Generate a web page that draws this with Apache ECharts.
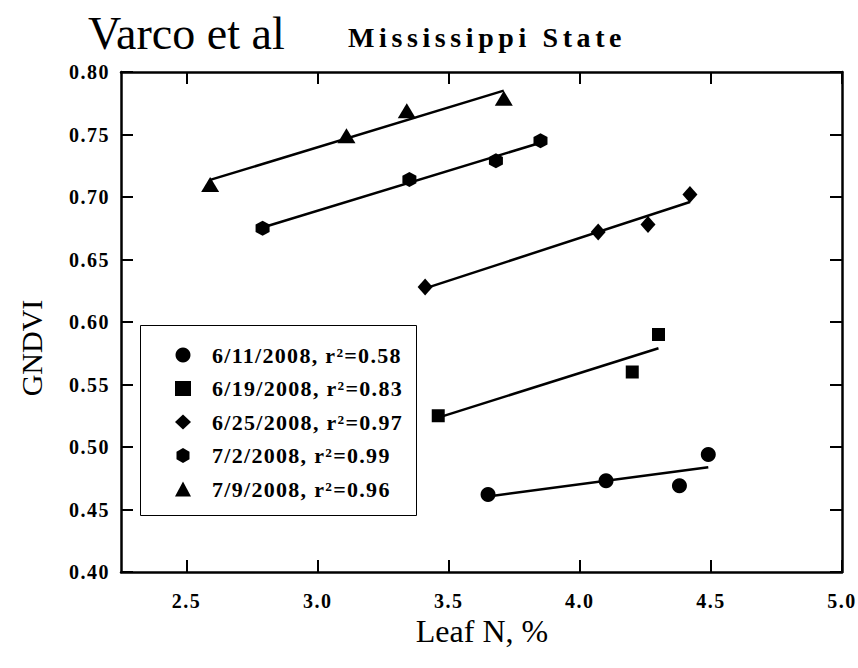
<!DOCTYPE html>
<html><head><meta charset="utf-8">
<script src="https://cdn.jsdelivr.net/npm/echarts@6/dist/echarts.min.js"></script>
<style>html,body{margin:0;padding:0;background:#fff}#c{width:858px;height:668px}</style>
</head><body><div id="c"></div>
<script>
// ---- data ----
const dates = ['6/11/2008', '6/19/2008', '6/25/2008', '7/2/2008', '7/9/2008'];
const rSquared = ['0.58', '0.83', '0.97', '0.99', '0.96'];
const leafN_0611 = [3.65, 4.10, 4.38, 4.49];
const gndvi_0611 = [0.462, 0.473, 0.469, 0.494];
const leafN_0619 = [3.46, 4.20, 4.30];
const gndvi_0619 = [0.525, 0.560, 0.590];
const leafN_0625 = [3.41, 4.07, 4.26, 4.42];
const gndvi_0625 = [0.628, 0.672, 0.678, 0.702];
const leafN_0702 = [2.79, 3.35, 3.68, 3.85];
const gndvi_0702 = [0.675, 0.714, 0.729, 0.745];
const leafN_0709 = [2.59, 3.11, 3.34, 3.71];
const gndvi_0709 = [0.710, 0.749, 0.769, 0.779];
const xTicks = [2.5, 3.0, 3.5, 4.0, 4.5, 5.0];
const yTicks = [0.40, 0.45, 0.50, 0.55, 0.60, 0.65, 0.70, 0.75, 0.80];
const xRange = [2.25, 5.0];
const yRange = [0.40, 0.80];

// ---- styling ----
const HEX = 'path://M0,-1L0.866,-0.5L0.866,0.5L0,1L-0.866,0.5L-0.866,-0.5Z';
const symbols = ['circle', 'rect', 'diamond', HEX, 'triangle'];
const symbolSizes = [15, 13, [15, 17], [14, 15], [18, 15]];
const xs = [leafN_0611, leafN_0619, leafN_0625, leafN_0702, leafN_0709];
const ys = [gndvi_0611, gndvi_0619, gndvi_0625, gndvi_0702, gndvi_0709];
const SERIF = '"Liberation Serif", "Times New Roman", serif';

function fit(x, y) {
  const n = x.length;
  const mx = x.reduce((a, b) => a + b, 0) / n, my = y.reduce((a, b) => a + b, 0) / n;
  let sxy = 0, sxx = 0;
  for (let i = 0; i < n; i++) { sxy += (x[i] - mx) * (y[i] - my); sxx += (x[i] - mx) * (x[i] - mx); }
  const b = sxy / sxx, a = my - b * mx;
  const x0 = Math.min(...x), x1 = Math.max(...x);
  return [[x0, a + b * x0], [x1, a + b * x1]];
}

const series = [];
dates.forEach((d, i) => {
  series.push({
    name: d, type: 'scatter', symbol: symbols[i], symbolSize: symbolSizes[i],
    itemStyle: { color: '#000', opacity: 1 }, z: 4, silent: true,
    data: xs[i].map((v, k) => [v, ys[i][k]])
  });
  series.push({
    name: 'fit ' + d, type: 'line', symbol: 'none', silent: true, z: 3,
    lineStyle: { color: '#000', width: 2.5, opacity: 1 },
    data: fit(xs[i], ys[i])
  });
});

const axisLine = { show: true, onZero: false, lineStyle: { color: '#000', width: 2.5 } };
const tick = (vals) => ({ show: true, inside: true, length: 12, customValues: vals, lineStyle: { color: '#000', width: 2 } });
const labelFont = { fontFamily: SERIF, fontWeight: 'bold', fontSize: 20, color: '#000' };

const chart = echarts.init(document.getElementById('c'), null, { renderer: 'svg' });
chart.setOption({
  animation: false,
  backgroundColor: '#fff',
  grid: { left: 121, top: 72, width: 721, height: 500 },
  xAxis: [
    { type: 'value', position: 'bottom', min: xRange[0], max: xRange[1],
      axisLine, axisTick: tick(xTicks), splitLine: { show: false },
      axisLabel: Object.assign({ customValues: xTicks, margin: 19, formatter: v => v.toFixed(1) }, labelFont) },
    { type: 'value', position: 'top', min: xRange[0], max: xRange[1],
      axisLine, axisTick: tick(xTicks), splitLine: { show: false }, axisLabel: { show: false } }
  ],
  yAxis: [
    { type: 'value', position: 'left', min: yRange[0], max: yRange[1],
      axisLine, axisTick: tick(yTicks), splitLine: { show: false },
      axisLabel: Object.assign({ customValues: yTicks, margin: 11, formatter: v => v.toFixed(2) }, labelFont) },
    { type: 'value', position: 'right', min: yRange[0], max: yRange[1],
      axisLine, axisTick: tick(yTicks), splitLine: { show: false }, axisLabel: { show: false } }
  ],
  legend: {
    data: dates, orient: 'vertical', left: 175, top: 344, padding: 0,
    itemWidth: 16, itemHeight: 15, itemGap: 11.5, selectedMode: false,
    formatter: name => name + ', r\u00B2=' + rSquared[dates.indexOf(name)],
    textStyle: { fontFamily: SERIF, fontWeight: 'bold', fontSize: 22, color: '#000', lineHeight: 21, padding: [0, 0, 0, 16] }
  },
  graphic: [
    { type: 'rect', silent: true, shape: { x: 140.5, y: 325.5, width: 276, height: 190 },
      style: { fill: '#fff', stroke: '#000', lineWidth: 1 }, z: 2 },
    { type: 'text', x: 88, y: 33, silent: true,
      style: { text: 'Varco et al', font: '46px ' + SERIF, fill: '#000', textAlign: 'left', textVerticalAlign: 'middle' } },
    { type: 'text', x: 348, y: 37, silent: true,
      style: { text: 'Mississippi State', font: 'bold 28px ' + SERIF, fill: '#000', textAlign: 'left', textVerticalAlign: 'middle' } },
    { type: 'text', x: 482, y: 631, silent: true,
      style: { text: 'Leaf N, %', font: '32px ' + SERIF, fill: '#000', textAlign: 'center', textVerticalAlign: 'middle' } },
    { type: 'text', x: 31, y: 348, rotation: Math.PI / 2, silent: true,
      style: { text: 'GNDVI', font: '30px ' + SERIF, fill: '#000', textAlign: 'center', textVerticalAlign: 'middle' } }
  ],
  series
});

function spaceText() {
  document.querySelectorAll('#c svg text').forEach(t => {
    const s = t.textContent;
    let ls = 0;
    if (s === 'Mississippi State') ls = 4.6;
    else if (/^\d\.\d+$/.test(s)) ls = 1.5;
    else if (s.indexOf('2008') >= 0) ls = 1.3;
    t.style.letterSpacing = ls + 'px';
  });
}
spaceText();
chart.on('finished', spaceText);
setTimeout(spaceText, 0);
</script>
</body></html>
